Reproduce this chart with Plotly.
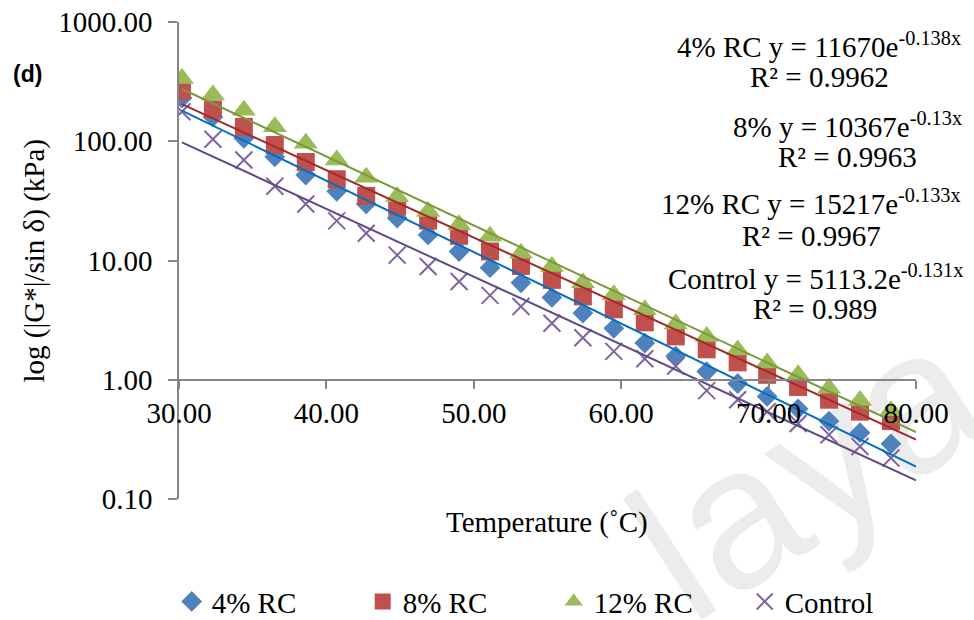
import base64
import numpy as np
import plotly.graph_objects as go

# Test temperatures (deg C)
temperature = [30.2, 32.3, 34.4, 36.5, 38.6, 40.7, 42.7, 44.8, 46.9, 49.0, 51.1, 53.2,
               55.3, 57.4, 59.5, 61.6, 63.7, 65.8, 67.9, 69.9, 72.0, 74.1, 76.2, 78.3]

# |G*|/sin(delta) in kPa for each binder
rc4 = [230, 160, 106, 74, 52, 38, 29.8, 22.7, 16.4, 11.9, 8.7, 6.5,
       4.9, 3.62, 2.7, 2.03, 1.58, 1.17, 0.93, 0.725, 0.57, 0.45, 0.36, 0.29]
rc8 = [265, 185, 132, 93, 67, 48, 34.8, 28.3, 21.6, 16.1, 11.9, 9.0,
       6.88, 5.0, 3.9, 3.03, 2.31, 1.8, 1.40, 1.10, 0.87, 0.68, 0.54, 0.45]
rc12 = [336, 244, 182, 132, 96, 69.6, 49.8, 34.3, 25.7, 19.9, 16.0, 11.5,
        8.89, 6.5, 5.15, 3.86, 2.93, 2.31, 1.78, 1.38, 1.10, 0.85, 0.67, 0.55]
control = [177, 104, 69.6, 42, 29.8, 21.5, 16.9, 11.1, 8.9, 6.66, 5.1, 4.11,
           2.98, 2.25, 1.73, 1.5, 1.3, 0.81, 0.68, 0.54, 0.43, 0.346, 0.276, 0.221]

# Exponential trendline coefficients y = a * exp(b * x)
fit_a = {"4% RC": 11670, "8% RC": 10367, "12% RC": 15217, "Control": 5113.2}
fit_b = {"4% RC": -0.138, "8% RC": -0.13, "12% RC": -0.133, "Control": -0.131}
fit_r2 = {"4% RC": "0.9962", "8% RC": "0.9963", "12% RC": "0.9967", "Control": "0.989"}
eq_label = {"4% RC": "4% RC", "8% RC": "8%", "12% RC": "12% RC", "Control": "Control"}

x_ticks = [30, 40, 50, 60, 70, 80]
x_ticktext = ["30.00", "40.00", "50.00", "60.00", "70.00", "80.00"]
y_ticks = [0.1, 1, 10, 100, 1000]
y_ticktext = ["0.10", "1.00", "10.00", "100.00", "1000.00"]

SERIF = "Liberation Serif, Times New Roman, serif"
AXIS_GREY = "rgb(134,134,134)"

series = [
    ("4% RC", rc4, dict(symbol="diamond", size=16, color="#4F81BD"), "#0070C0"),
    ("8% RC", rc8, dict(symbol="square", size=18, color="#C0504D"), "#A52A2A"),
    ("12% RC", rc12, dict(symbol="triangle-up", size=21, color="#9BBB59"), "#7A9A3A"),
    ("Control", control, dict(symbol="x-thin", size=17, color="#8064A2",
                               line=dict(width=2, color="#8064A2")), "#5F4A85"),
]

fig = go.Figure()
for name, vals, marker, _ in series:
    fig.add_trace(go.Scatter(x=temperature, y=vals, mode="markers", name=name,
                             marker=marker))

# Trendlines drawn from the stated fit equations
trend_x = np.linspace(temperature[0], 80, 60)
for name, _, _, lcolor in series:
    fig.add_trace(go.Scatter(x=trend_x, y=fit_a[name] * np.exp(fit_b[name] * trend_x),
                             mode="lines", line=dict(color=lcolor, width=2),
                             showlegend=False, hoverinfo="skip"))

# Plot area in pixels
L, R, T, B = 179.3, 915.7, 21.7, 499.3
W, H = 974, 620


def px(xp):
    return (xp - L) / (R - L)


def py(yp):
    return (B - yp) / (B - T)


annotations = []
eq_pos = {"4% RC": (819, 45, 77), "8% RC": (847, 125, 157),
          "12% RC": (811, 202, 236), "Control": (815, 277, 309)}
for name in ["4% RC", "8% RC", "12% RC", "Control"]:
    cx, y1, y2 = eq_pos[name]
    coef = f"{fit_a[name]:g}" if name != "Control" else "5113.2"
    annotations.append(dict(
        x=px(cx), y=py(y1), xref="paper", yref="paper", showarrow=False,
        text=f"{eq_label[name]} y = {coef}e<sup>{fit_b[name]:g}x</sup>",
        font=dict(family=SERIF, size=29, color="black"), xanchor="center", yanchor="middle"))
    annotations.append(dict(
        x=px(cx), y=py(y2), xref="paper", yref="paper", showarrow=False,
        text=f"R² = {fit_r2[name]}",
        font=dict(family=SERIF, size=29, color="black"), xanchor="center", yanchor="middle"))

annotations.append(dict(x=px(547), y=py(523), xref="paper", yref="paper", showarrow=False,
                        text="Temperature (˚C)", font=dict(family=SERIF, size=29, color="black"),
                        xanchor="center", yanchor="middle"))
annotations.append(dict(x=px(35), y=py(261), xref="paper", yref="paper", showarrow=False,
                        text="log (|G*|/sin δ) (kPa)", textangle=-90,
                        font=dict(family=SERIF, size=29, color="black"),
                        xanchor="center", yanchor="middle"))
annotations.append(dict(x=px(28), y=py(74), xref="paper", yref="paper", showarrow=False,
                        text="<b>(d)</b>", font=dict(family="Liberation Sans, Arial, sans-serif",
                                                     size=23, color="black"),
                        xanchor="center", yanchor="middle"))

# Faint repository watermark behind the chart
svg = (
    f'<svg xmlns="http://www.w3.org/2000/svg" width="{W}" height="{H}">'
    '<text x="998" y="428" transform="rotate(-33 998 428)" text-anchor="end" '
    'font-family="Liberation Sans, Arial, sans-serif" font-size="200" fill="#ececec">laya</text>'
    '</svg>'
)
wm = "data:image/svg+xml;base64," + base64.b64encode(svg.encode()).decode()

fig.update_layout(
    width=W, height=H,
    margin=dict(l=L, r=W - R, t=T, b=H - B, pad=0, autoexpand=False),
    paper_bgcolor="white", plot_bgcolor="rgba(0,0,0,0)",
    showlegend=True,
    legend=dict(orientation="h", x=px(172), y=py(602), xanchor="left", yanchor="middle",
                font=dict(family=SERIF, size=29, color="black"), entrywidth=146,
                itemsizing="trace", bgcolor="rgba(0,0,0,0)"),
    annotations=annotations,
    images=[dict(source=wm, xref="paper", yref="paper", x=px(0), y=py(0),
                 sizex=W / (R - L), sizey=H / (B - T), xanchor="left", yanchor="top",
                 sizing="stretch", layer="below")],
    xaxis=dict(range=[30, 80], anchor="free", position=0.25, showgrid=False, zeroline=False,
               tickvals=x_ticks, ticktext=x_ticktext, ticks="outside", ticklen=8,
               tickwidth=1.5, tickcolor=AXIS_GREY, showline=True, linecolor=AXIS_GREY,
               linewidth=1.5, tickfont=dict(family=SERIF, size=29, color="black")),
    yaxis=dict(type="log", range=[-1, 3], showgrid=False, zeroline=False,
               tickvals=y_ticks, ticktext=y_ticktext, ticks="outside", ticklen=9,
               ticklabelstandoff=10,
               tickwidth=1.5, tickcolor=AXIS_GREY, showline=True, linecolor=AXIS_GREY,
               linewidth=1.5, tickfont=dict(family=SERIF, size=29, color="black")),
)

fig.write_html("out.html")
